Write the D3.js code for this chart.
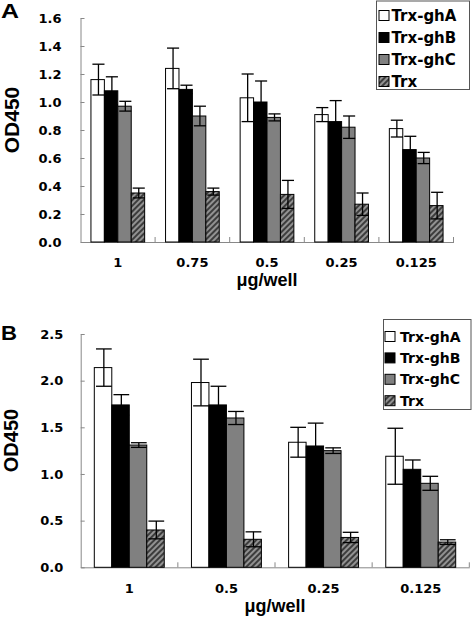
<!DOCTYPE html>
<html>
<head>
<meta charset="utf-8">
<script src="https://cdn.jsdelivr.net/npm/d3@7/dist/d3.min.js"></script>
<style>
  html, body { margin: 0; padding: 0; background: #fff; }
  svg { display: block; }
</style>
</head>
<body>
<svg id="chart" width="475" height="618"></svg>
<script>
// ---------- DATA ----------
const seriesNames = ["Trx-ghA", "Trx-ghB", "Trx-ghC", "Trx"];

// Panel A
const categoriesA = ["1", "0.75", "0.5", "0.25", "0.125"];
const ghA_A = [1.16, 1.24, 1.03, 0.91, 0.81];
const ghB_A = [1.08, 1.09, 1.00, 0.86, 0.66];
const ghC_A = [0.97, 0.90, 0.89, 0.82, 0.60];
const trx_A = [0.35, 0.36, 0.34, 0.27, 0.26];
const ghA_A_err = [0.11, 0.145, 0.17, 0.05, 0.06];
const ghB_A_err = [0.10, 0.03, 0.15, 0.15, 0.095];
const ghC_A_err = [0.035, 0.07, 0.025, 0.08, 0.04];
const trx_A_err = [0.035, 0.025, 0.10, 0.08, 0.095];
const yTicksA = [0, 0.2, 0.4, 0.6, 0.8, 1.0, 1.2, 1.4, 1.6];

// Panel B
const categoriesB = ["1", "0.5", "0.25", "0.125"];
const ghA_B = [2.14, 1.98, 1.34, 1.19];
const ghB_B = [1.74, 1.74, 1.30, 1.05];
const ghC_B = [1.31, 1.60, 1.25, 0.90];
const trx_B = [0.40, 0.30, 0.32, 0.27];
const ghA_B_err = [0.20, 0.25, 0.16, 0.30];
const ghB_B_err = [0.11, 0.20, 0.245, 0.10];
const ghC_B_err = [0.025, 0.07, 0.03, 0.075];
const trx_B_err = [0.095, 0.08, 0.055, 0.025];
const yTicksB = [0, 0.5, 1.0, 1.5, 2.0, 2.5];

const xTitle = "μg/well";
const yTitle = "OD450";

// ---------- DRAW ----------
const svg = d3.select("#chart");
const defs = svg.append("defs");
const pat = defs.append("pattern")
  .attr("id", "hatch")
  .attr("patternUnits", "userSpaceOnUse")
  .attr("width", 4).attr("height", 4)
  .attr("patternTransform", "rotate(45)");
pat.append("rect").attr("width", 4).attr("height", 4).attr("fill", "#3c3c3c");
pat.append("line").attr("x1", 1).attr("y1", 0).attr("x2", 1).attr("y2", 4)
  .attr("stroke", "#a8a8a8").attr("stroke-width", 1.6);

const fills = ["#ffffff", "#000000", "#808080", "url(#hatch)"];
const tickFont = "'DejaVu Sans', sans-serif";
const titleFont = "'Liberation Sans', Arial, sans-serif";

function panel(cfg) {
  const g = svg.append("g");
  const x = d3.scaleBand().domain(cfg.categories).range([cfg.x0, cfg.x1]).padding(0);
  const bw = x.bandwidth();
  const xs = d3.scaleBand().domain(seriesNames).range([bw * 0.14, bw * 0.86]).padding(0);
  const y = d3.scaleLinear().domain([0, cfg.ymax]).range([cfg.y0, cfg.y1]);

  // y axis
  const ya = g.append("g").attr("transform", `translate(${cfg.x0},0)`)
    .call(d3.axisLeft(y).tickValues(cfg.yTicks).tickFormat(d3.format(".1f"))
      .tickSizeInner(-4).tickSizeOuter(0).tickPadding(cfg.yPad));
  ya.select(".domain").attr("stroke", "#888").attr("stroke-width", 1);
  ya.selectAll(".tick line").attr("stroke", "#888");
  ya.selectAll(".tick text").attr("font-family", tickFont).attr("font-weight", "bold")
    .attr("font-size", 13).attr("fill", "#000");

  // x axis
  const xa = g.append("g").attr("transform", `translate(0,${cfg.y0})`)
    .call(d3.axisBottom(x).tickSize(0).tickPadding(cfg.xPad));
  xa.select(".domain").attr("stroke", "#888").attr("stroke-width", 1);
  xa.selectAll(".tick text").attr("font-family", tickFont).attr("font-weight", "bold")
    .attr("font-size", 13).attr("fill", "#000");
  const bounds = cfg.categories.slice(1).map(c => x(c)).concat([x(cfg.categories[cfg.categories.length - 1]) + bw]);
  g.selectAll("line.bt").data(bounds).join("line").attr("class", "bt")
    .attr("x1", d => d).attr("x2", d => d).attr("y1", cfg.y0).attr("y2", cfg.y0 - 5)
    .attr("stroke", "#888");

  // bars
  cfg.series.forEach((vals, si) => {
    const grp = g.append("g");
    grp.selectAll("rect").data(vals).join("rect")
      .attr("x", (d, i) => x(cfg.categories[i]) + xs(seriesNames[si]))
      .attr("y", d => y(d))
      .attr("width", xs.bandwidth())
      .attr("height", d => y(0) - y(d))
      .attr("fill", fills[si])
      .attr("stroke", "#000").attr("stroke-width", 1);
  });
  // error bars
  const cap = xs.bandwidth() * 0.9;
  cfg.series.forEach((vals, si) => {
    const errs = cfg.errors[si];
    const eg = g.append("g").attr("stroke", "#000").attr("stroke-width", 1.3);
    vals.forEach((v, i) => {
      const cx = x(cfg.categories[i]) + xs(seriesNames[si]) + xs.bandwidth() / 2 + 0.8;
      const top = y(v + errs[i]), bot = y(v - errs[i]);
      eg.append("line").attr("x1", cx).attr("x2", cx).attr("y1", top).attr("y2", bot);
      eg.append("line").attr("x1", cx - cap / 2).attr("x2", cx + cap / 2).attr("y1", top).attr("y2", top);
      eg.append("line").attr("x1", cx - cap / 2).attr("x2", cx + cap / 2).attr("y1", bot).attr("y2", bot);
    });
  });

  // axis titles
  g.append("text").attr("x", (cfg.x0 + cfg.x1) / 2).attr("y", cfg.xTitleY)
    .attr("text-anchor", "middle").attr("font-family", titleFont).attr("font-weight", "bold")
    .attr("font-size", 18).text(xTitle);
  g.append("text").attr("transform", `translate(${cfg.yTitleX},${cfg.yTitleY}) rotate(-90)`)
    .attr("text-anchor", "middle").attr("dominant-baseline", "central")
    .attr("font-family", titleFont).attr("font-weight", "bold")
    .attr("font-size", cfg.yTitleSize).text(yTitle);
  // panel letter
  g.append("text").attr("x", 1).attr("y", cfg.letterY)
    .attr("font-family", titleFont).attr("font-weight", "bold").attr("font-size", 21)
    .attr("textLength", cfg.letterW).attr("lengthAdjust", "spacingAndGlyphs")
    .text(cfg.letter);

  // legend
  const L = cfg.legend;
  g.append("rect").attr("x", L.x).attr("y", L.y).attr("width", L.w).attr("height", L.h)
    .attr("fill", "#fff").attr("stroke", "#555").attr("stroke-width", 1);
  seriesNames.forEach((s, si) => {
    const cy = L.cy0 + si * L.step;
    g.append("rect").attr("x", L.sx).attr("y", cy - 5).attr("width", 10).attr("height", 10)
      .attr("fill", fills[si]).attr("stroke", "#000").attr("stroke-width", 1);
    g.append("text").attr("x", L.tx).attr("y", cy).attr("dy", "0.36em")
      .attr("font-family", tickFont).attr("font-weight", "bold").attr("font-size", L.fs)
      .text(s);
  });
}

panel({
  categories: categoriesA,
  series: [ghA_A, ghB_A, ghC_A, trx_A],
  errors: [ghA_A_err, ghB_A_err, ghC_A_err, trx_A_err],
  yTicks: yTicksA, ymax: 1.6,
  x0: 80.5, x1: 453.5, y0: 242, y1: 18,
  yPad: 19, xPad: 15.5,
  xTitleY: 286, yTitleX: 11, yTitleY: 120, yTitleSize: 21,
  letter: "A", letterY: 18, letterW: 18,
  legend: { x: 376.5, y: 1, w: 93, h: 88.5, cy0: 15.5, step: 22, sx: 379, tx: 391.5, fs: 15 }
});

panel({
  categories: categoriesB,
  series: [ghA_B, ghB_B, ghC_B, trx_B],
  errors: [ghA_B_err, ghB_B_err, ghC_B_err, trx_B_err],
  yTicks: yTicksB, ymax: 2.5,
  x0: 80.7, x1: 469.3, y0: 567.3, y1: 334,
  yPad: 17.5, xPad: 16,
  xTitleY: 611.7, yTitleX: 11, yTitleY: 440.5, yTitleSize: 20,
  letter: "B", letterY: 340, letterW: 16,
  legend: { x: 383.5, y: 319.5, w: 87.5, h: 90, cy0: 336.5, step: 21.4, sx: 385, tx: 400, fs: 14 }
});
</script>
</body>
</html>
